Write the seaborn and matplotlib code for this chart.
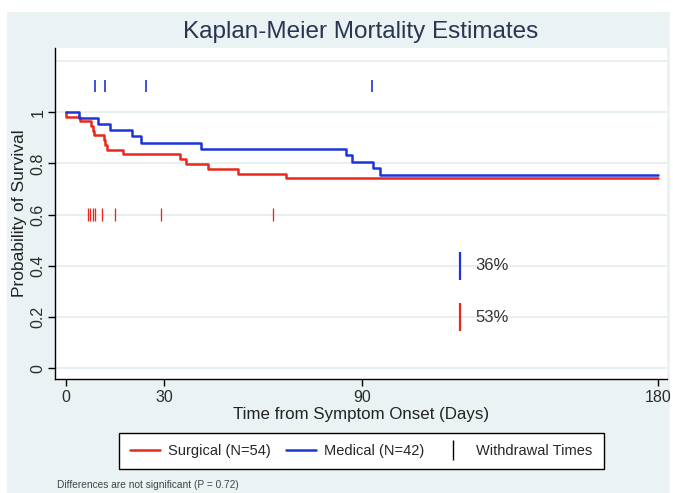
import matplotlib
matplotlib.use("Agg")
import matplotlib.pyplot as plt
from matplotlib.lines import Line2D
from matplotlib.patches import Rectangle
import pandas as pd
import seaborn as sns

# Kaplan-Meier step points: day of each drop and survival just after it
surgical_days = [0, 0, 4.4, 7.8, 8.2, 8.7, 11.5, 12.0, 12.6, 17.3, 34.6, 36.6, 43.2, 52.3, 67.1, 180]
surgical_surv = [1.0, 0.982, 0.964, 0.946, 0.928, 0.910, 0.890, 0.871, 0.852, 0.836,
                 0.816, 0.799, 0.778, 0.759, 0.742, 0.742]
medical_days = [0, 4.1, 9.7, 13.6, 20.2, 23.0, 41.2, 85.2, 87.1, 93.4, 95.5, 180]
medical_surv = [1.0, 0.977, 0.953, 0.930, 0.906, 0.881, 0.855, 0.832, 0.807, 0.781, 0.755, 0.755]

# Withdrawal (censoring) times in days
surgical_withdrawals = [6.8, 7.5, 8.2, 8.9, 10.9, 15.0, 29.0, 63.1]
medical_withdrawals = [9.0, 12.0, 24.4, 93.0]

group_names = ["Surgical (N=54)", "Medical (N=42)"]
mortality_text = ["53%", "36%"]
mortality_day = 120
mortality_level = [0.2, 0.4]

x_ticks = [0, 30, 90, 180]
y_ticks = [0, 0.2, 0.4, 0.6, 0.8, 1]
y_tick_labels = ["0", "0.2", "0.4", "0.6", "0.8", "1"]

RED = "#e8281c"
BLUE = "#1c35d6"
BG = "#eaf2f3"

sns.set_style("white")
plt.rcParams["font.family"] = ["Liberation Sans", "DejaVu Sans"]

df = pd.concat([
    pd.DataFrame({"day": surgical_days, "surv": surgical_surv, "group": group_names[0]}),
    pd.DataFrame({"day": medical_days, "surv": medical_surv, "group": group_names[1]}),
], ignore_index=True)

fig = plt.figure(figsize=(6.73, 4.93), dpi=100)
fig.patch.set_facecolor("white")
fig.add_artist(Rectangle((7 / 673, 0), 663 / 673, 481 / 493, transform=fig.transFigure,
                         facecolor=BG, edgecolor="none", zorder=-10))

ax = fig.add_axes([55 / 673, 1 - 379 / 493, 612 / 673, 331 / 493])
ax.set_facecolor("white")

for g in [0, 0.2, 0.4, 0.6, 0.8, 1.0, 1.2]:
    ax.axhline(g, color="#e6eef0", lw=1.3, zorder=0)

sns.lineplot(data=df, x="day", y="surv", hue="group", palette=[RED, BLUE],
             estimator=None, sort=False, drawstyle="steps-post", lw=1.8,
             legend=False, ax=ax, zorder=3)

# withdrawal markers
ax.vlines(surgical_withdrawals, 0.575, 0.625, color=RED, lw=0.95, zorder=3)
ax.vlines(medical_withdrawals, 1.078, 1.124, color=BLUE, lw=1.2, zorder=3)

# mortality annotations
for txt, lev, col in zip(mortality_text, mortality_level, [RED, BLUE]):
    ax.vlines([mortality_day], lev - 0.055, lev + 0.055, color=col, lw=1.6, zorder=3)
    ax.text(mortality_day + 4.5, lev, txt, fontsize=12, color="#333333",
            va="center", ha="left")

ax.set_xlim(-3.25, 182.8)
ax.set_ylim(-0.041, 1.25)
ax.set_xticks(x_ticks)
ax.set_xticklabels([str(t) for t in x_ticks])
ax.set_yticks(y_ticks)
ax.set_yticklabels(y_tick_labels, rotation=90, va="center")
ax.tick_params(axis="both", length=5, width=1, color="black", labelsize=11.5,
               labelcolor="#2b2b2b", left=True, bottom=True)
ax.tick_params(axis="y", pad=2)
ax.tick_params(axis="x", pad=3)

for s in ["top", "right"]:
    ax.spines[s].set_visible(False)
for s in ["left", "bottom"]:
    ax.spines[s].set_color("black")
    ax.spines[s].set_linewidth(1)

ax.set_xlabel("Time from Symptom Onset (Days)", fontsize=12.2, color="#222222", labelpad=1)
ax.set_ylabel("Probability of Survival", fontsize=12.5, color="#222222", labelpad=2)

fig.text(361 / 673, 1 - 32 / 493, "Kaplan-Meier Mortality Estimates", fontsize=17.5,
         color="#2a3550", ha="center", va="center")

handles = [
    Line2D([], [], color=RED, lw=1.8),
    Line2D([], [], color=BLUE, lw=1.8),
    Line2D([], [], color="black", marker="|", linestyle="None", markersize=15, markeredgewidth=1),
]
leg = fig.legend(handles, group_names + ["Withdrawal Times"], loc="center",
                 bbox_to_anchor=(361.5 / 673, 1 - 451 / 493), ncol=3, fontsize=10.5,
                 frameon=True, fancybox=False, edgecolor="black", framealpha=1,
                 handlelength=2.05, columnspacing=1.0, handletextpad=0.55,
                 borderpad=0.75, borderaxespad=0)
leg.get_frame().set_linewidth(1)

fig.text(57 / 673, 1 - 485 / 493, "Differences are not significant (P = 0.72)",
         fontsize=7.3, color="#444444", ha="left", va="center")

fig.savefig("out.png", dpi=100)
